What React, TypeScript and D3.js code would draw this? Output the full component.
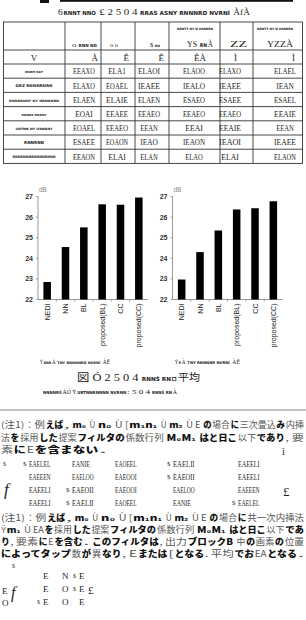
import React from "react";
import * as d3 from "d3";

// ---------- chart data ----------
const categories = ["NEDI", "NN", "BL", "proposed(BL)", "CC", "proposed(CC)"];
const leftValues = [22.85, 24.55, 25.5, 26.62, 26.6, 26.95];
const rightValues = [22.97, 24.3, 25.35, 26.37, 26.43, 26.77];
const yTicks = [22, 23, 24, 25, 26, 27];
const yUnit = "dB";

// ---------- text data ----------
const titleText = "6{RNNT NNO} £ 2 5 0 4 {RRAS ASNY RNNNRD NVRNÍ} ÀfÀ";
const headerTop = ["", "", "", "", "{NRNTY NY N URNRRN}", "", "{NRNTY NY N URNRRN}"];
const headerMain = ["", "o {RNN NG}", "o o", "$ {RN}", "YS {RN}À", "ZZ", "YZZÀ"];
const refRow = ["V", "À", "Ê", "Ê", "ÊÀ", "Ì", "Ì"];
const rowLabels = [
  "RNRM KEY",
  "GRZ RNNNRNRN",
  "RNNNRNNY NY NRNNNRN",
  "RNNRZ RNRNY",
  "URTNN NY URNRNY",
  "RNNRNN",
  "RNNRNNNRNNNNRNNN",
];
const rowValues = [
  ["EEAXO", "ELA1", "ELAOI", "ELAOO", "ELAXO", "ELAEL"],
  ["ELAXO", "EOAEL", "IEAEE", "IEALO", "IEAEE", "IEAN"],
  ["ELAEN", "ELAIE", "ELAEN", "ESAEO", "ESAEE", "ESAEL"],
  ["EOAI", "EEAEE", "EEAEO", "EEAEO", "EEAEO", "EEAIE"],
  ["EOAEL", "EEAEO", "EEAN", "EEAI", "EEAIE", "EEAN"],
  ["ESAEE", "EOAON", "IEAO", "IEAON", "IEAOI", "IEAEE"],
  ["EEAON", "ELAI", "ELAN", "ELAO", "ELAI", "ELAON"],
];
const leftCaption = "Ÿ{RNN}À {TNY RNNNNRD NVRNÍ} ÀĒ";
const rightCaption = "Ÿ{R}À {TNY RNNNNR NVRNÍ} ÀĒ";
const figCaption1 = "図 Ó 2 5 0 4 {RNNŠ RNロ}平均";
const figCaption2 = "{NNNNRŠ}ÁÓ Ÿ{URTNNRNNNN NVRNN}: 5 0 4 {RNNŠ RN}À";

const note1 = [
  "(注1)：例{えば}, {m₀} Ù {n₀} Ù [{m₁n₁} Ù {m₂} Ù E {の}場合{に}三次畳込{み}内挿",
  "法{を}採用{した}提案{フィルタの}係数行列 {M₀M₁} {はと日こ}以下{であり}, 要",
  "素{に}E{を含まない}.",
];
const matrixRows = [
  ["$EAELEL", "EANIE", "EAOEEL", "$EAELII", "EAEELI"],
  ["EAEEEN", "EAELOO", "EAEOOI", "$EAEOII", "EAEELI"],
  ["EAEELI", "$EAEOII", "EAEOOI", "EAELOO", "EAEEEN"],
  ["EAEELI", "$EAELII", "EAOEEL", "EANIE", "$EAELEL"],
];
const note2 = [
  "(注1)：例{えば}, {m₀} Ù {n₀} Ù [{m₁n₁} Ù {m₂} Ù E {の}場合{に}共一次内挿法",
  "Ÿ{m₁} Ù EA{を}採用{した}提案{フィルタの}係数行列 {M₀M₁} {はと日こ}以下{であ}",
  "{り}, 要素{に}E{を含む}. {このフィルタは}, 出力{ブロックB} 中{の}画素{の}位置",
  "{によってタップ}数{が}異{なり}, E{または}[{となる}. 平均{でお}EA{となる}.",
];
const formulaRows = [
  ["E", "N", "$E"],
  ["E", "O", "$E"],
  ["$E", "O", "E"],
];

// ---------- helpers ----------
const SERIF = "'Liberation Serif',serif";
const SANS = "'Liberation Sans',Arial,sans-serif";
const CJK = "'Noto Sans CJK JP',sans-serif";
const blobStyle = { fontFamily: "'DejaVu Sans'", fontWeight: 700, fontSize: 5.5, fill: "#222" };
const serifStyle = { fontFamily: "'Liberation Serif','Noto Sans CJK JP',serif", fontSize: 9, fill: "#222" };
const kanjiStyle = { fontFamily: CJK, fontWeight: 400, fontSize: 8.6, fill: "#555" };
const kanaStyle = { fontFamily: CJK, fontWeight: 900, fontSize: 8.6, fill: "#111" };

function charW(ch: string, fs: number, bold: boolean) {
  if (/[\u3000-\u9fff\uff00-\uffef]/.test(ch)) return fs * 1.02;
  if (ch === " ") return fs * 0.3;
  return fs * (bold ? 0.8 : 0.64);
}

type Run = { t: string; bold: boolean };
function runs(s: string): Run[] {
  return s
    .split(/(\{[^}]*\})/)
    .filter((p) => p.length > 0)
    .map((p) => (p.startsWith("{") ? { t: p.slice(1, -1), bold: true } : { t: p, bold: false }));
}

function FitRich({
  s,
  x,
  y,
  width,
  anchor = "start",
  normal,
  bold,
}: {
  s: string;
  x: number;
  y: number;
  width: number;
  anchor?: "start" | "end" | "middle";
  normal: any;
  bold: any;
}) {
  const rs = runs(s);
  const ws = rs.map((r) =>
    [...r.t].reduce((a, ch) => a + charW(ch, r.bold ? bold.fontSize : normal.fontSize, r.bold), 0)
  );
  const total = d3.sum(ws);
  const k = width / total;
  const fk = Math.min(1, k);
  let cx = anchor === "end" ? x - width : anchor === "middle" ? x - width / 2 : x;
  return (
    <g>
      {rs.map((r, i) => {
        const st = r.bold ? bold : normal;
        let w = ws[i] * k;
        let px = cx;
        cx += w;
        const lead = r.t.length - r.t.trimStart().length;
        const trail = r.t.length - r.t.trimEnd().length;
        const sp = charW(" ", st.fontSize, r.bold) * k;
        px += lead * sp;
        w -= (lead + trail) * sp;
        const body = r.t.trim();
        if (!body) return null;
        const gap = i < rs.length - 1 && trail === 0 ? 0.8 : 0;
        return (
          <text
            key={i}
            x={px}
            y={y}
            textLength={Math.max(0.5, w - gap)}
            lengthAdjust="spacingAndGlyphs"
            style={{ whiteSpace: "pre" }}
            {...st}
            fontSize={st.fontSize * fk}
          >
            {body}
          </text>
        );
      })}
    </g>
  );
}

function BarChart({ x0, values }: { x0: number; values: number[] }) {
  const width = 110;
  const x = d3
    .scaleBand<string>()
    .domain(categories)
    .range([x0, x0 + width])
    .paddingInner(0.59)
    .paddingOuter(0.295);
  const y = d3.scaleLinear().domain([22, 27]).range([299.5, 196.5]);
  const step = x.step();
  return (
    <g>
      <line x1={x0} x2={x0} y1={y(22)} y2={y(27)} stroke="#999" strokeWidth={1} />
      <line x1={x0} x2={x0 + width} y1={y(22)} y2={y(22)} stroke="#999" strokeWidth={1} />
      {yTicks.map((t) => (
        <g key={t}>
          <line x1={x0 - 2} x2={x0} y1={y(t)} y2={y(t)} stroke="#999" />
          <text
            x={x0 - 5}
            y={y(t) + 2.5}
            textAnchor="end"
            fontFamily={SANS}
            fontWeight={700}
            fontSize={7}
            fill="#333"
          >
            {t}
          </text>
        </g>
      ))}
      <text x={x0 + 1} y={191.5} fontFamily={SANS} fontSize={6.5} fill="#888">
        {yUnit}
      </text>
      {categories.slice(1).map((c) => {
        const bx = (x(c) as number) - (step - x.bandwidth()) / 2;
        return <line key={c} x1={bx} x2={bx} y1={y(22)} y2={y(22) + 2} stroke="#999" />;
      })}
      {categories.map((c, i) => (
        <rect
          key={c}
          x={x(c)}
          y={y(values[i])}
          width={x.bandwidth()}
          height={y(22) - y(values[i])}
          fill="#000"
        />
      ))}
      {categories.map((c) => {
        const cx = (x(c) as number) + x.bandwidth() / 2;
        return (
          <text
            key={c}
            transform={`translate(${cx + 2.5},${y(22) + 4}) rotate(-90)`}
            textAnchor="end"
            fontFamily={SANS}
            fontSize={7}
            fill="#222"
          >
            {c}
          </text>
        );
      })}
    </g>
  );
}

export default function App() {
  const colX = [3.5, 65, 101, 135, 169, 220, 253, 302.5];
  const tableTop = 22;
  const headerBottom = 50;
  const refBottom = 64;
  const rowH = 14.2;
  const tableBottom = refBottom + rowH * rowValues.length;
  const valueCx = [84, 117, 149, 194, 230, 285];
  const headerRight = [0, 97, 118, 160, 213, 247, 293];
  const headerW = [0, 25, 8, 10, 26, 17, 26];
  const refRight = [0, 98, 129, 164, 206, 237, 295];
  const labelW = [18, 37, 50, 25, 37, 20, 43];

  const matrixY = [467, 480, 493, 506];
  const matrixColX = [29, 72, 115, 173, 238];
  const note1Y = [428, 441, 453];
  const note2Y = [521, 533, 545, 557];
  const formulaY = [579, 592, 605];
  const formulaX = [43, 62, 79];

  return (
    <div style={{ position: "absolute", left: 0, top: 0 }}>
      <svg width={306} height={620} style={{ display: "block", background: "#fff" }}>
        <rect width={306} height={620} fill="#fff" />
        {/* cut-off line at the very top */}
        <rect x={40} y={0} width={9} height={3} fill="#111" />
        <rect x={60} y={0} width={233} height={1.8} fill="#111" />

        {/* title */}
        <FitRich
          s={titleText}
          x={58}
          y={14.5}
          width={192}
          normal={{ ...serifStyle, fontSize: 10 }}
          bold={{ ...blobStyle, fontSize: 6.5 }}
        />

        {/* table */}
        <g stroke="#333" strokeWidth={0.9} fill="none">
          <rect x={colX[0]} y={tableTop} width={colX[7] - colX[0]} height={tableBottom - tableTop} />
          {colX.slice(1, 7).map((cx, i) => (
            <line key={i} x1={cx} x2={cx} y1={tableTop} y2={tableBottom} />
          ))}
          <line x1={colX[0]} x2={colX[7]} y1={headerBottom} y2={headerBottom} />
          <line x1={colX[0]} x2={colX[7]} y1={refBottom} y2={refBottom} />
          {rowValues.slice(1).map((_, i) => (
            <line
              key={i}
              x1={colX[0]}
              x2={colX[7]}
              y1={refBottom + rowH * (i + 1)}
              y2={refBottom + rowH * (i + 1)}
            />
          ))}
        </g>
        {headerTop.map((h, i) =>
          h ? (
            <FitRich
              key={"ht" + i}
              s={h}
              x={headerRight[i]}
              y={30}
              width={36}
              anchor="end"
              normal={serifStyle}
              bold={{ ...blobStyle, fontSize: 4.5 }}
            />
          ) : null
        )}
        {headerMain.map((h, i) =>
          h ? (
            <FitRich
              key={"hm" + i}
              s={h}
              x={headerRight[i]}
              y={46.5}
              width={headerW[i]}
              anchor="end"
              normal={{ ...serifStyle, fontSize: 8 }}
              bold={{ ...blobStyle, fontSize: 5 }}
            />
          ) : null
        )}
        {refRow.map((r, i) => (
          <text
            key={"r" + i}
            x={i === 0 ? 34 : refRight[i]}
            y={60.5}
            textAnchor={i === 0 ? "middle" : "end"}
            fontFamily={SERIF}
            fontSize={9}
            fill="#222"
          >
            {r}
          </text>
        ))}
        {rowLabels.map((lab, r) => (
          <text
            key={"l" + r}
            x={34}
            y={refBottom + rowH * r + rowH / 2 + 2}
            textAnchor="middle"
            textLength={labelW[r]}
            lengthAdjust="spacingAndGlyphs"
            {...blobStyle}
            fontSize={Math.min(5, labelW[r] / (lab.length * 0.8))}
          >
            {lab}
          </text>
        ))}
        {rowValues.map((row, r) =>
          row.map((v, c) => (
            <text
              key={"v" + r + "-" + c}
              x={valueCx[c]}
              y={refBottom + rowH * r + rowH / 2 + 3.2}
              textAnchor="middle"
              fontFamily={SERIF}
              fontSize={9}
              fill="#222"
              textLength={v.length * 4.4}
              lengthAdjust="spacingAndGlyphs"
            >
              {v}
            </text>
          ))
        )}

        {/* charts */}
        <BarChart x0={38} values={leftValues} />
        <BarChart x0={172.5} values={rightValues} />

        {/* captions */}
        <FitRich s={leftCaption} x={40} y={364} width={70} normal={serifStyle} bold={blobStyle} />
        <FitRich s={rightCaption} x={175} y={364} width={65} normal={serifStyle} bold={blobStyle} />
        <FitRich
          s={figCaption1}
          x={77}
          y={381}
          width={123}
          normal={{ ...serifStyle, fontSize: 10 }}
          bold={blobStyle}
        />
        <FitRich s={figCaption2} x={43} y={394} width={134} normal={serifStyle} bold={blobStyle} />

        <line x1={0} x2={306} y1={410} y2={410} stroke="#888" strokeWidth={1.2} />

        {/* note 1 */}
        {note1.map((ln, i) => (
          <FitRich
            key={"n1" + i}
            s={ln}
            x={1}
            y={note1Y[i]}
            width={i < 2 ? 303 : 106}
            normal={kanjiStyle}
            bold={kanaStyle}
          />
        ))}
        <text x={282} y={455} fontFamily={SERIF} fontSize={11} fill="#333">ì</text>
        <text x={3} y={466} fontFamily={SERIF} fontSize={6} fill="#333">$</text>

        {/* matrix */}
        <text x={4} y={495} fontFamily={SERIF} fontStyle="italic" fontSize={17} fill="#222">f</text>
        <text x={283} y={496} fontFamily={SERIF} fontSize={13} fill="#222">£</text>
        {matrixRows.map((row, r) =>
          row.map((v, c) => {
            const neg = v.startsWith("$");
            const body = neg ? v.slice(1) : v;
            return (
              <g key={"m" + r + "-" + c}>
                {neg && (
                  <text x={matrixColX[c] - 6} y={matrixY[r] - 1} fontFamily={SERIF} fontSize={7} fill="#333">
                    $
                  </text>
                )}
                <text
                  x={matrixColX[c]}
                  y={matrixY[r]}
                  fontFamily={SERIF}
                  fontSize={9}
                  fill="#222"
                  textLength={body.length * 3.6}
                  lengthAdjust="spacingAndGlyphs"
                >
                  {body}
                </text>
              </g>
            );
          })
        )}

        {/* note 2 */}
        {note2.map((ln, i) => (
          <FitRich
            key={"n2" + i}
            s={ln}
            x={1}
            y={note2Y[i]}
            width={303}
            normal={kanjiStyle}
            bold={kanaStyle}
          />
        ))}
        <text x={12} y={568} fontFamily={SERIF} fontSize={6} fill="#333">$</text>

        {/* formula */}
        <text x={2} y={594} fontFamily={SERIF} fontSize={9} fill="#222">E</text>
        <text x={2} y={606} fontFamily={SERIF} fontSize={9} fill="#222">O</text>
        <text x={11} y={598} fontFamily={SERIF} fontStyle="italic" fontSize={16} fill="#222">f</text>
        <text x={88} y={594} fontFamily={SERIF} fontSize={11} fill="#222">£</text>
        {formulaRows.map((row, r) =>
          row.map((v, c) => {
            const neg = v.startsWith("$");
            return (
              <g key={"f" + r + "-" + c}>
                {neg && (
                  <text x={formulaX[c] - 6} y={formulaY[r] - 1} fontFamily={SERIF} fontSize={6} fill="#333">
                    $
                  </text>
                )}
                <text x={formulaX[c]} y={formulaY[r]} fontFamily={SERIF} fontSize={9} fill="#222">
                  {neg ? v.slice(1) : v}
                </text>
              </g>
            );
          })
        )}
      </svg>
    </div>
  );
}
